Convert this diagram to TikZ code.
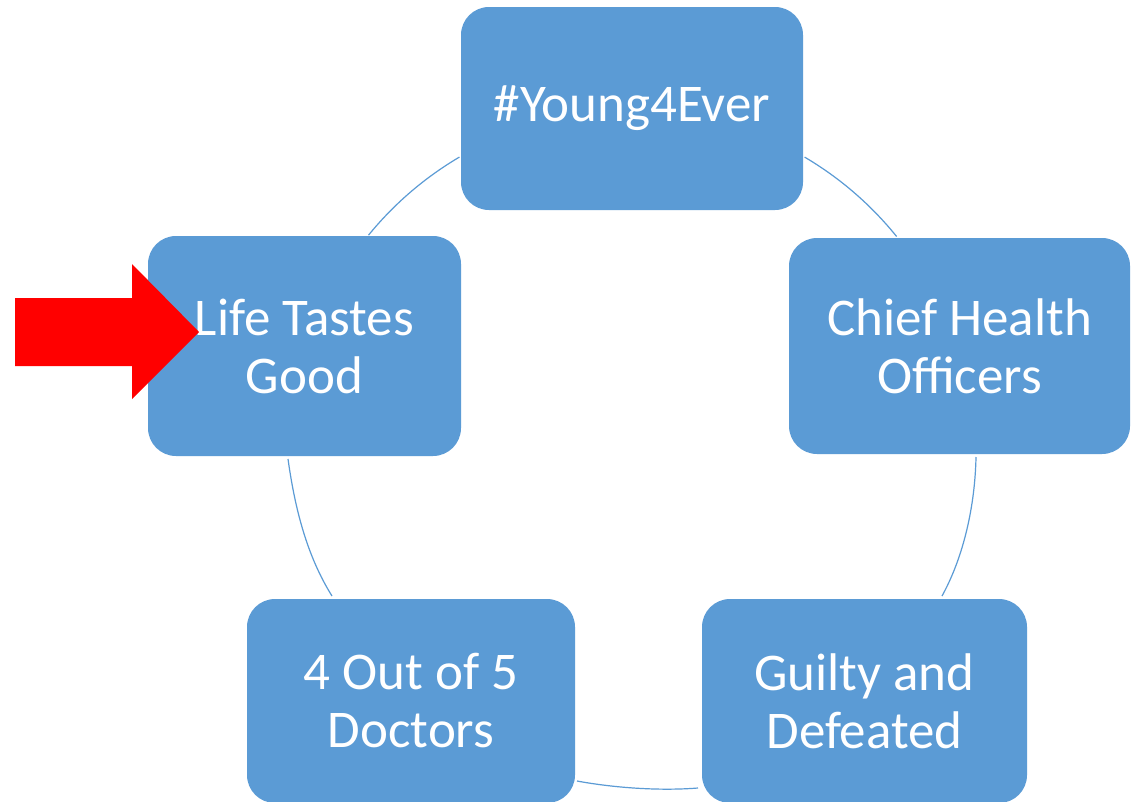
\documentclass[tikz,border=0pt]{standalone}
\usepackage{fontspec}
\setmainfont{Carlito}
\usetikzlibrary{calc}
\definecolor{boxblue}{HTML}{5B9BD5}
\tikzset{
  cbox/.style={rounded corners=28pt, fill=boxblue, text=white, align=center,
    inner sep=0pt, font=\fontsize{53}{58}\selectfont},
  conn/.style={draw=boxblue, line width=1.2pt},
  redarrow/.style={fill=red}
}
\begin{document}
\begin{tikzpicture}[x=1pt, y=-1pt]
\clip (0,0) rectangle (1134,801);
\fill[white] (0,0) rectangle (1134,801);
\coordinate (ctr) at (632,450);
% arcs of the cycle
\draw[conn] ($(ctr)+(-120.5:340)$) arc[start angle=-120.5, end angle=-140.8, radius=340];
\draw[conn] ($(ctr)+(-59.5:340)$) arc[start angle=-59.5, end angle=-38.9, radius=340];
\draw[conn] (288,459) .. controls (295,509) and (307,556) .. (332,596);
\draw[conn] (976,457) .. controls (975,505) and (964,556) .. (942,596);
\draw[conn] (577,781) .. controls (615,788) and (660,791) .. (698,788);
% boxes
\node[cbox, minimum width=342pt, minimum height=203pt] (young) at (632,108.5) {\#Young4Ever};
\node[cbox, minimum width=341pt, minimum height=216pt] (chief) at (959.5,346) {Chief Health\\Officers};
\node[cbox, minimum width=325pt, minimum height=204pt] (guilty) at (864.5,701) {Guilty and\\Defeated};
\node[cbox, minimum width=328pt, minimum height=204pt] (doctors) at (411,701) {4 Out of 5\\Doctors};
\node[cbox, minimum width=313pt, minimum height=220pt] (life) at (304.5,346) {Life Tastes\\Good};
% red arrow
\fill[redarrow] (15,298) -- (132,298) -- (132,264) -- (199,332) -- (132,399) -- (132,366) -- (15,366) -- cycle;
\end{tikzpicture}
\end{document}
